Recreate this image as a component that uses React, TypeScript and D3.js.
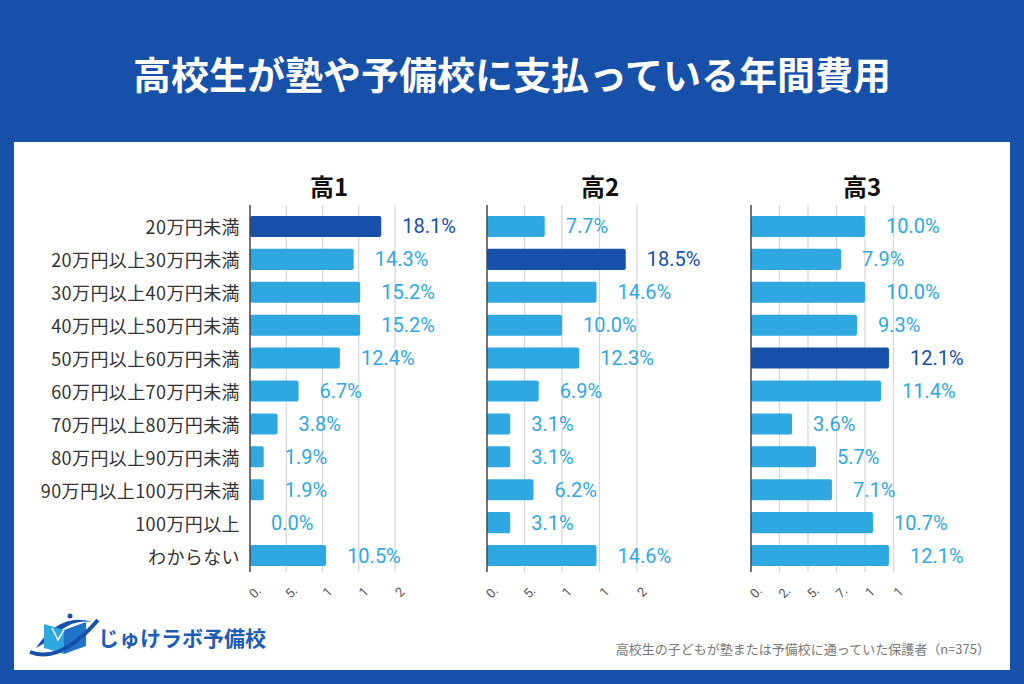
import React from "react";
import * as d3 from "d3";

const categories = [
  "20万円未満",
  "20万円以上30万円未満",
  "30万円以上40万円未満",
  "40万円以上50万円未満",
  "50万円以上60万円未満",
  "60万円以上70万円未満",
  "70万円以上80万円未満",
  "80万円以上90万円未満",
  "90万円以上100万円未満",
  "100万円以上",
  "わからない",
];

const grade1 = [18.1, 14.3, 15.2, 15.2, 12.4, 6.7, 3.8, 1.9, 1.9, 0.0, 10.5];
const grade2 = [7.7, 18.5, 14.6, 10.0, 12.3, 6.9, 3.1, 3.1, 6.2, 3.1, 14.6];
const grade3 = [10.0, 7.9, 10.0, 9.3, 12.1, 11.4, 3.6, 5.7, 7.1, 10.7, 12.1];

const panelTitles = ["高1", "高2", "高3"];
const highlightIndex = [0, 1, 4];

const ticks12 = [0, 5, 10, 15, 20];
const tickLabels12 = ["0.", "5.", "1", "1", "2"];
const ticks3 = [0, 2.5, 5, 7.5, 10, 12.5];
const tickLabels3 = ["0.", "2.", "5.", "7.", "1", "1"];

const title = "高校生が塾や予備校に支払っている年間費用";
const footnote = "高校生の子どもが塾または予備校に通っていた保護者（n=375）";
const logoText = "じゅけラボ予備校";

const LIGHT = "#2fa8e1";
const DARK = "#1650a9";
const BG = "#1650a9";
const FONT = "'Noto Sans CJK JP', 'Noto Sans', sans-serif";
const NUMFONT = "Roboto, 'Noto Sans', sans-serif";

const panels = [
  { values: grade1, x0: 250, max: 20, width: 145, ticks: ticks12, labels: tickLabels12, titleX: 329 },
  { values: grade2, x0: 487, max: 20, width: 150, ticks: ticks12, labels: tickLabels12, titleX: 600 },
  { values: grade3, x0: 751, max: 12.5, width: 142.5, ticks: ticks3, labels: tickLabels3, titleX: 862 },
];

export default function App() {
  const W = 1024;
  const H = 684;
  const y = d3.scaleBand<string>().domain(categories).range([210, 572]).paddingInner(0.36).paddingOuter(0.18);
  const gridTop = 205;
  const gridBottom = 572;

  return (
    <svg width={W} height={H} style={{ position: "absolute", left: 0, top: 0 }}>
      <rect x={0} y={0} width={W} height={H} fill={BG} />
      <rect x={14} y={142} width={996} height={528} fill="#ffffff" />
      <text x={512} y={72} fill="#fff" fontFamily={FONT} fontWeight={700} fontSize={38} textAnchor="middle" dominantBaseline="central">
        {title}
      </text>

      {categories.map((c) => (
        <text key={c} x={240} y={(y(c) as number) + y.bandwidth() / 2} fill="#333" fontFamily={FONT} fontSize={18} letterSpacing={0.4} textAnchor="end" dominantBaseline="central">
          {c}
        </text>
      ))}

      {panels.map((p, pi) => {
        const x = d3.scaleLinear().domain([0, p.max]).range([p.x0, p.x0 + p.width]);
        return (
          <g key={pi}>
            <text x={p.titleX} y={185} fill="#111" fontFamily={FONT} fontWeight={700} fontSize={24} textAnchor="middle" dominantBaseline="central">
              {panelTitles[pi]}
            </text>
            {p.ticks.map((t, ti) =>
              ti === 0 ? null : (
                <line key={ti} x1={x(t)} x2={x(t)} y1={gridTop} y2={gridBottom} stroke="#d6d6d6" strokeWidth={1.2} />
              )
            )}
            {p.values.map((v, i) => {
              const yy = y(categories[i]) as number;
              const hl = i === highlightIndex[pi];
              return (
                <g key={i}>
                  {v > 0 && (
                    <rect x={x(0)} y={yy} width={x(v) - x(0)} height={y.bandwidth()} rx={2} fill={hl ? DARK : LIGHT} />
                  )}
                  <text x={x(v) + 21} y={yy + y.bandwidth() / 2} fill={hl ? DARK : LIGHT} fontFamily={NUMFONT} fontSize={20} dominantBaseline="central">
                    {v.toFixed(1) + "%"}
                  </text>
                </g>
              );
            })}
            <line x1={x(0)} x2={x(0)} y1={gridTop} y2={gridBottom} stroke="#444" strokeWidth={1.5} />
            {p.ticks.map((t, ti) => (
              <text key={"l" + ti} transform={`translate(${x(t) + 5},${592}) rotate(-45)`} fill="#555" fontFamily={NUMFONT} fontSize={13} textAnchor="middle" dominantBaseline="central">
                {p.labels[ti]}
              </text>
            ))}
          </g>
        );
      })}

      {/* logo */}
      <g>
        <path d="M36,648 Q60,612 92,622 Q70,618 50,640 Z" fill="#1650a9" />
        <path d="M44,624 L44,648 L64,654 L64,630 Z" fill={LIGHT} />
        <path d="M64,630 L64,654 L86,646 L86,622 Z" fill="#1f74c9" />
        <path d="M52,628 L58,640 L64,630" fill="none" stroke="#fff" strokeWidth={1.5} />
        <path d="M30,652 Q60,664 98,620" fill="none" stroke="#1650a9" strokeWidth={4} />
        <circle cx={70} cy={616} r={2.5} fill="#1650a9" />
        <text x={98} y={637} fill="#1d5bb5" fontFamily={FONT} fontWeight={700} fontSize={21} dominantBaseline="central">
          {logoText}
        </text>
      </g>

      <text x={990} y={648} fill="#777" fontFamily={FONT} fontSize={13} textAnchor="end" dominantBaseline="central">
        {footnote}
      </text>
    </svg>
  );
}
